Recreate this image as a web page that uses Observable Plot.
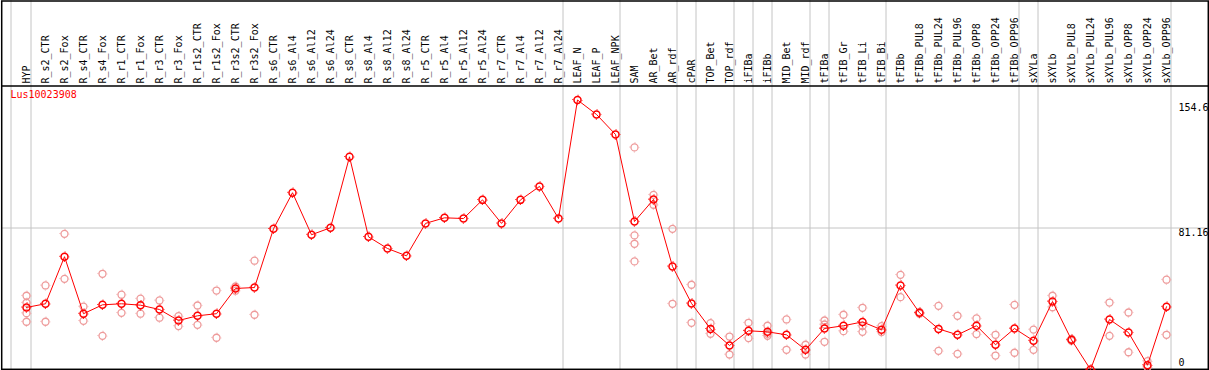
<!DOCTYPE html>
<html>
<head>
<meta charset="utf-8">
<script src="https://cdn.jsdelivr.net/npm/d3@7"></script>
<script src="https://cdn.jsdelivr.net/npm/@observablehq/plot@0.6"></script>
<style>
  html, body { margin: 0; padding: 0; background: #fff; }
  #chart svg { display: block; }
</style>
</head>
<body>
<div id="chart"></div>
<script>
const geneName = "Lus10023908";

const categories = [
  "HYP", "R_s2_CTR", "R_s2_Fox", "R_s4_CTR", "R_s4_Fox", "R_r1_CTR", "R_r1_Fox",
  "R_r3_CTR", "R_r3_Fox", "R_r1s2_CTR", "R_r1s2_Fox", "R_r3s2_CTR", "R_r3s2_Fox",
  "R_s6_CTR", "R_s6_Al4", "R_s6_Al12", "R_s6_Al24", "R_s8_CTR", "R_s8_Al4", "R_s8_Al12", "R_s8_Al24",
  "R_r5_CTR", "R_r5_Al4", "R_r5_Al12", "R_r5_Al24", "R_r7_CTR", "R_r7_Al4", "R_r7_Al12", "R_r7_Al24",
  "LEAF_N", "LEAF_P", "LEAF_NPK", "SAM", "AR_Bet", "AR_rdf", "cPAR", "TOP_Bet", "TOP_rdf",
  "iFIBa", "iFIBb", "MID_Bet", "MID_rdf", "tFIBa", "tFIB_Gr", "tFIB_Li", "tFIB_Bi",
  "tFIBb", "tFIBb_PUL8", "tFIBb_PUL24", "tFIBb_PUL96", "tFIBb_OPP8", "tFIBb_OPP24", "tFIBb_OPP96",
  "sXYLa", "sXYLb", "sXYLb_PUL8", "sXYLb_PUL24", "sXYLb_PUL96", "sXYLb_OPP8", "sXYLb_OPP24", "sXYLb_OPP96"
];

const meanValues = [
  35.6, 37.7, 64.7, 32.0, 37.1, 37.7, 36.9,
  34.4, 28.1, 30.8, 32.0, 46.5, 47.0,
  80.7, 101.4, 77.3, 81.3, 122.0, 76.1, 69.4, 65.2,
  83.8, 87.0, 86.6, 97.3, 83.8, 97.3, 105.0, 86.6,
  154.6, 146.3, 134.8, 84.9, 97.5, 59.1, 37.9, 23.3, 13.8,
  22.2, 21.6, 19.9, 11.3, 23.5, 25.1, 27.3, 22.8,
  48.2, 32.5, 23.3, 19.9, 25.1, 14.2, 23.5,
  16.5, 39.0, 17.0, 0.0, 28.7, 21.2, 2.5, 36.0
];

const replicateValues = [
  [42.3, 38.3, 32.3, 27.4], [48.2, 27.4], [77.8, 52.0], [36.1, 27.9], [54.9, 19.3], [42.9, 32.5], [40.6, 32.0],
  [39.6, 29.7], [30.6, 24.9], [36.7, 25.6], [45.3, 18.2], [47.6, 45.2], [62.4, 31.4],
  [], [], [], [], [], [], [], [],
  [], [], [], [], [], [], [], [],
  [], [], [], [127.4, 76.9, 72.1, 62.0], [100.2, 94.5], [80.7, 37.7], [48.6, 26.8], [26.6, 20.5], [18.9, 8.6],
  [26.8, 18.0], [25.1, 19.3, 20.5], [28.7, 11.3], [14.2, 8.6], [28.1, 25.8, 15.9], [31.4, 22.0], [35.4, 24.9, 21.6], [24.9, 21.5],
  [54.3, 41.5], [33.0, 32.0], [36.5, 10.7], [30.8, 9.0], [29.3, 20.3], [19.9, 8.0], [37.1, 9.6],
  [22.9, 11.3], [42.3, 35.7], [17.5, 16.5], [], [38.4, 19.3], [32.7, 9.9], [4.8, 1.3], [51.5, 19.9]
];

// group separators (drawn just after these categories)
const groupEnds = ["HYP", "R_r7_Al24", "LEAF_NPK", "AR_rdf", "cPAR", "TOP_rdf", "iFIBa", "iFIBb",
  "MID_rdf", "tFIBa", "tFIB_Bi", "tFIBb_OPP96", "sXYLa", "sXYLb_OPP96"];

const yMax = 162.33;
const yTickTop = 154.6;
const yTickMid = 81.16;

const means = categories.map((c, i) => ({cat: c, v: meanValues[i]}));
const reps = categories.flatMap((c, i) => replicateValues[i].map(v => ({cat: c, v})));

const RED = "#ff0000";
const PINK = "#ee9a9a";
const GRAY = "#c4c4c4";

const chart = Plot.plot({
  width: 1209,
  height: 370,
  marginTop: 86,
  marginBottom: 1,
  marginLeft: 1,
  marginRight: 1,
  style: {fontFamily: "'DejaVu Sans Mono', monospace", fontSize: "10px", background: "#fff"},
  x: {type: "point", domain: categories, range: [26, 1166], padding: 0, axis: null},
  y: {domain: [0, yMax], axis: null},
  marks: [
    // group separators, running through the header
    Plot.ruleX(groupEnds, {x: d => d, dx: 4.5, stroke: GRAY, strokeWidth: 1, insetTop: -86}),
    Plot.ruleX(["HYP"], {x: d => d, dx: -15.5, stroke: GRAY, strokeWidth: 1, insetTop: -86}),
    // mid gridline
    Plot.ruleY([yTickMid], {stroke: GRAY, strokeWidth: 1}),
    // outer frame & header divider
    Plot.frame({stroke: "#000", strokeWidth: 1.5, insetTop: -85.5, insetLeft: 0.2, insetRight: 0.2, insetBottom: 0.2}),
    Plot.ruleY([yMax], {stroke: "#000", strokeWidth: 1.5, dy: -0.5}),
    // rotated category labels
    Plot.text(categories, {
      x: d => d, frameAnchor: "top", dy: -3, rotate: -90,
      textAnchor: "start", lineAnchor: "middle", fill: "#000"
    }),
    // gene name
    Plot.text([geneName], {frameAnchor: "top-left", dx: 9, dy: 4, textAnchor: "start", lineAnchor: "top", fill: RED}),
    // y labels
    Plot.text([yTickTop], {y: d => d, frameAnchor: "right", dx: -30, dy: 8, textAnchor: "start", text: d => String(d), fill: "#000"}),
    Plot.text([yTickMid], {y: d => d, frameAnchor: "right", dx: -30, dy: 4.5, textAnchor: "start", text: d => String(d), fill: "#000"}),
    Plot.text([0], {y: d => d, frameAnchor: "right", dx: -30, dy: -6.5, textAnchor: "start", text: d => String(d), fill: "#000"}),
    // replicates
    Plot.dot(reps, {x: "cat", y: "v", r: 3.5, stroke: PINK, strokeWidth: 1.3, fill: "none"}),
    Plot.dot(reps, {x: "cat", y: "v", r: 4.6, stroke: PINK, strokeWidth: 1, fill: "none", strokeDasharray: "1 6.23", strokeDashoffset: 0.5}),
    // mean line and markers
    Plot.line(means, {x: "cat", y: "v", stroke: RED, strokeWidth: 1}),
    Plot.dot(means, {x: "cat", y: "v", r: 3.5, stroke: RED, strokeWidth: 1.5, fill: "none"}),
    Plot.dot(means, {x: "cat", y: "v", r: 4.7, stroke: RED, strokeWidth: 1.1, fill: "none", strokeDasharray: "1 6.38", strokeDashoffset: 0.5})
  ]
});

document.getElementById("chart").appendChild(chart);
</script>
</body>
</html>
